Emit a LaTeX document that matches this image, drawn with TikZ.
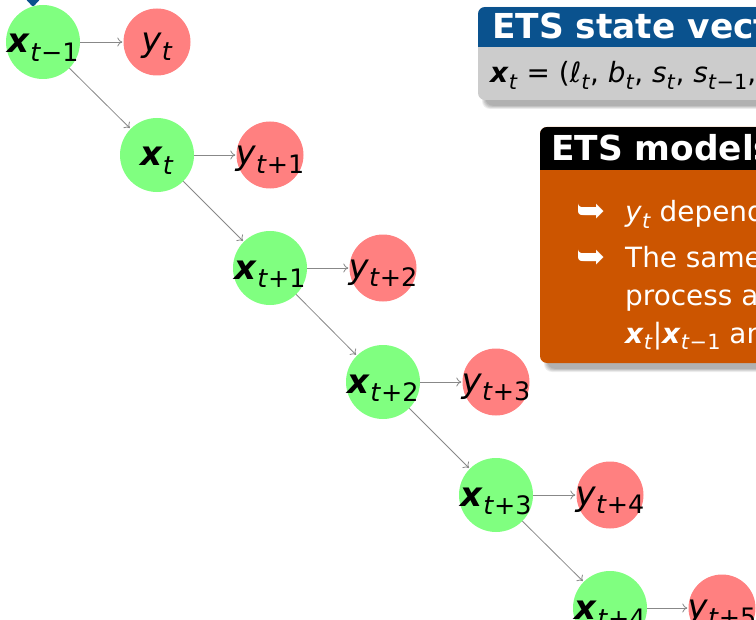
\documentclass[tikz,border=0pt]{standalone}
\usepackage{fontspec}
\setmainfont{DejaVu Sans}
\usetikzlibrary{arrows.meta}
\definecolor{gnode}{RGB}{128,255,128}
\definecolor{rnode}{RGB}{255,128,128}
\definecolor{etsblue}{RGB}{10,82,142}
\definecolor{etsgray}{RGB}{204,204,204}
\definecolor{etsorange}{RGB}{204,85,0}
\definecolor{arrgray}{RGB}{136,136,136}
\newcommand\bx{\textbf{\textit{x}}}
\makeatletter
\newcommand\ssub[1]{\raisebox{-0.24em}{\fontsize{\strip@pt\dimexpr\f@size pt*75/100\relax}{10}\selectfont #1}}
\makeatother
\newcommand\ti{\textit{t}}
\tikzset{
  gn/.style={circle, fill=gnode, minimum size=74bp, inner sep=0pt},
  rn/.style={circle, fill=rnode, minimum size=67bp, inner sep=0pt},
  ntxt/.style={inner sep=0pt, anchor=base, font=\fontsize{34}{40}\selectfont},
  ar/.style={draw=arrgray, line width=0.8bp, -{To[length=5bp,width=9bp]}, shorten >=1bp},
  ttl/.style={inner sep=0pt, anchor=base west, text=white, font=\fontsize{34.5}{40}\selectfont\bfseries},
  btxt/.style={inner sep=0pt, anchor=base west, font=\fontsize{28}{34}\selectfont},
  bul/.style={inner sep=0pt, anchor=base west, text=white, font=\fontsize{35}{40}\selectfont},
  shlayer/.style={fill=black, fill opacity=0.07}
}
\newcommand\softshadow[4]{%
  \foreach \k in {0,1,...,4}{%
    \fill[shlayer, rounded corners=8bp] ({#1+4+\k*0.8},{#2+4+\k*0.8}) rectangle ({#3+4-\k*0.8},{#4+9-\k*0.8});
  }}
\begin{document}
\begin{tikzpicture}[x=1bp,y=-1bp]
\useasboundingbox (0,0) rectangle (756,620);
\clip (0,0) rectangle (756,620);
% partial blue marker at top left
\fill[etsblue, rounded corners=2bp] (21,-6) -- (33,7) -- (45,-6) -- cycle;
% nodes
\node[gn] (g1) at (43,42) {};
\node[rn] (r1) at (157,42) {};
\node[gn] (g2) at (157,155) {};
\node[rn] (r2) at (270,155) {};
\node[gn] (g3) at (270,268) {};
\node[rn] (r3) at (383,268) {};
\node[gn] (g4) at (383,382) {};
\node[rn] (r4) at (496,382) {};
\node[gn] (g5) at (496,495) {};
\node[rn] (r5) at (610,495) {};
\node[gn] (g6) at (610,608) {};
\node[rn] (r6) at (722,608) {};
% labels
\node[ntxt] (g1t) at ([yshift=-11bp]g1.center) {\bx\ssub{\ti−1}};
\node[ntxt] (r1t) at ([yshift=-10bp]r1.center) {\textit{y}\ssub{\ti}};
\node[ntxt] (g2t) at ([yshift=-11bp]g2.center) {\bx\ssub{\ti}};
\node[ntxt] (r2t) at ([yshift=-10bp]r2.center) {\textit{y}\ssub{\ti+1}};
\node[ntxt] (g3t) at ([yshift=-11bp]g3.center) {\bx\ssub{\ti+1}};
\node[ntxt] (r3t) at ([yshift=-10bp]r3.center) {\textit{y}\ssub{\ti+2}};
\node[ntxt] (g4t) at ([yshift=-11bp]g4.center) {\bx\ssub{\ti+2}};
\node[ntxt] (r4t) at ([yshift=-10bp]r4.center) {\textit{y}\ssub{\ti+3}};
\node[ntxt] (g5t) at ([yshift=-11bp]g5.center) {\bx\ssub{\ti+3}};
\node[ntxt] (r5t) at ([yshift=-10bp]r5.center) {\textit{y}\ssub{\ti+4}};
\node[ntxt] (g6t) at ([yshift=-11bp]g6.center) {\bx\ssub{\ti+4}};
\node[ntxt] (r6t) at ([yshift=-10bp]r6.center) {\textit{y}\ssub{\ti+5}};
% arrows
\draw[ar] (g1) -- (r1);
\draw[ar] (g2) -- (r2);
\draw[ar] (g3) -- (r3);
\draw[ar] (g4) -- (r4);
\draw[ar] (g5) -- (r5);
\draw[ar] (g6) -- (r6);
\draw[ar] (g1) -- (g2);
\draw[ar] (g2) -- (g3);
\draw[ar] (g3) -- (g4);
\draw[ar] (g4) -- (g5);
\draw[ar] (g5) -- (g6);
% box 1: ETS state vector
\softshadow{478}{7}{820}{100}
\fill[etsgray, rounded corners=7bp] (478,7) rectangle (820,100);
\begin{scope}
  \clip[rounded corners=7bp] (478,7) rectangle (820,100);
  \fill[etsblue] (478,7) rectangle (820,47);
\end{scope}
\node[ttl] (t1) at (492,39) {ETS state vector};
\node[btxt] (b1) at (490,83) {\bx\ssub{\ti} = (\textit{ℓ}\ssub{\ti}, \textit{b}\ssub{\ti}, \textit{s}\ssub{\ti}, \textit{s}\ssub{\ti−1}, …, \textit{s}\ssub{\ti−\textit{m}+1})};
% box 2: ETS models
\softshadow{540}{127}{820}{363}
\fill[etsorange, rounded corners=7bp] (540,127) rectangle (820,363);
\begin{scope}
  \clip[rounded corners=7bp] (540,127) rectangle (820,363);
  \fill[black] (540,127) rectangle (820,170);
\end{scope}
\node[ttl] (t2) at (551,161) {ETS models};
\node[bul] (k1) at (576,223) {➥};
\node[btxt, text=white] (i1) at (625,222) {\textit{y}\ssub{\ti} depends on \bx\ssub{\ti−1}.};
\node[bul] (k2) at (576,268) {➥};
\node[btxt, text=white] (i2a) at (625,267) {The same random error};
\node[btxt, text=white] (i2b) at (625,305) {process affects};
\node[btxt, text=white] (i2c) at (625,343) {\bx\ssub{\ti}|\bx\ssub{\ti−1} and \textit{y}\ssub{\ti}|\bx\ssub{\ti−1}.};
\end{tikzpicture}
\end{document}
